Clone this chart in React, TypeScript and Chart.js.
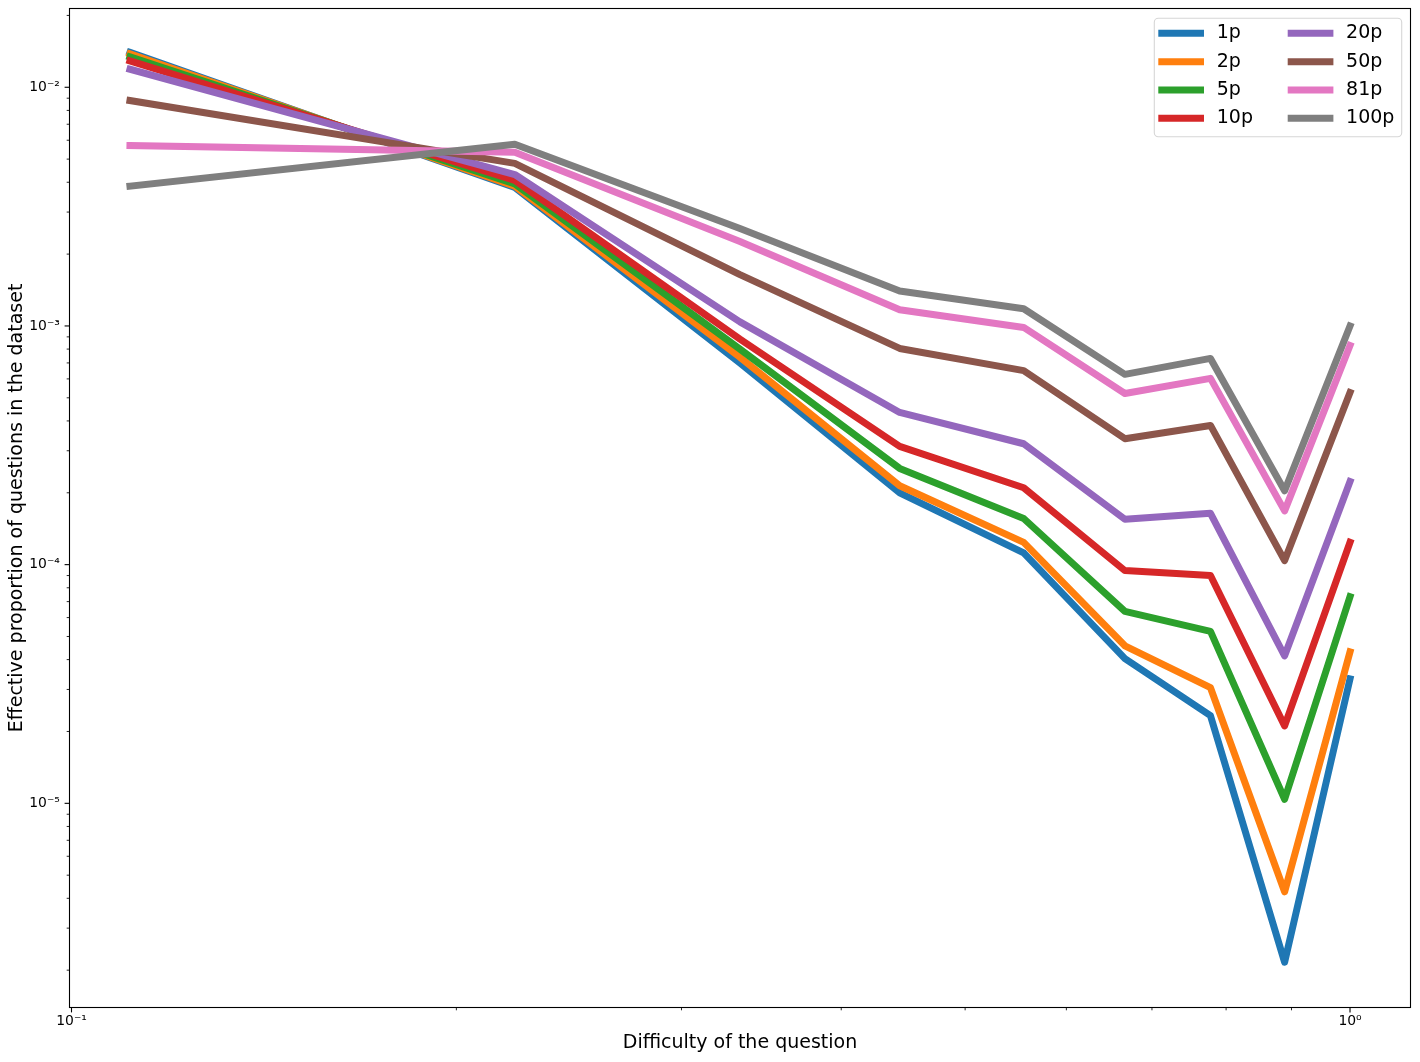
import React, { useEffect, useRef } from 'react';
import { Chart, registerables } from 'chart.js';

Chart.register(...registerables);

// ---------------- data ----------------
const DIFFICULTY = [0.1111, 0.2222, 0.3333, 0.4444, 0.5556, 0.6667, 0.7778, 0.8889, 1.0];

const SERIES_LABELS = ['1p', '2p', '5p', '10p', '20p', '50p', '81p', '100p'];
const SERIES_COLORS = ['#1f77b4', '#ff7f0e', '#2ca02c', '#d62728', '#9467bd', '#8c564b', '#e377c2', '#7f7f7f'];

const P1 = [0.0140, 0.00380, 0.000700, 0.000200, 0.000112, 0.0000404, 0.0000233, 0.00000216, 0.0000332];
const P2 = [0.0138, 0.00385, 0.000740, 0.000214, 0.000124, 0.0000457, 0.0000305, 0.00000426, 0.0000431];
const P5 = [0.0134, 0.00394, 0.000800, 0.000253, 0.000156, 0.0000637, 0.0000525, 0.0000104, 0.0000734];
const P10 = [0.0129, 0.00407, 0.000880, 0.000313, 0.000210, 0.0000944, 0.0000900, 0.0000211, 0.000124];
const P20 = [0.0119, 0.00431, 0.00104, 0.000434, 0.000321, 0.000155, 0.000164, 0.0000415, 0.000223];
const P50 = [0.0088, 0.00480, 0.00164, 0.000805, 0.000650, 0.000337, 0.000383, 0.000104, 0.000526];
const P81 = [0.0057, 0.00534, 0.00226, 0.00117, 0.000986, 0.000521, 0.000603, 0.000168, 0.000828];
const P100 = [0.00385, 0.00577, 0.00256, 0.00140, 0.00118, 0.000627, 0.000731, 0.000204, 0.00100];

const SERIES_VALUES = [P1, P2, P5, P10, P20, P50, P81, P100];

const X_TICK_VALUES = [0.1, 1];
const X_TICK_LABELS = ['10\u207B\u00B9', '10\u2070'];
const Y_TICK_VALUES = [1e-5, 1e-4, 1e-3, 1e-2];
const Y_TICK_LABELS = ['10\u207B\u2075', '10\u207B\u2074', '10\u207B\u00B3', '10\u207B\u00B2'];

const X_TITLE = 'Difficulty of the question';
const Y_TITLE = 'Effective proportion of questions in the dataset';

const X_MIN = 0.09964;
const X_MAX = 1.1151;
const Y_MIN = 1.395e-6;
const Y_MAX = 0.02138;

const FONT = 'DejaVu Sans';

// ---------------- helpers ----------------
function logTicks(min: number, max: number) {
  const out: { value: number; major: boolean }[] = [];
  const e0 = Math.floor(Math.log10(min));
  const e1 = Math.ceil(Math.log10(max));
  for (let e = e0; e <= e1; e++) {
    for (let m = 1; m <= 9; m++) {
      const v = m * Math.pow(10, e);
      if (v >= min && v <= max) out.push({ value: v, major: m === 1 });
    }
  }
  return out;
}

function labelFor(values: number[], labels: string[], v: number) {
  const i = values.findIndex((t) => Math.abs(Math.log10(t) - Math.log10(v)) < 1e-6);
  return i >= 0 ? labels[i] : '';
}

const framePlugin = {
  id: 'frameTicks',
  afterDraw(chart: any) {
    const { ctx, chartArea } = chart;
    const { left, right, top, bottom } = chartArea;
    ctx.save();
    ctx.strokeStyle = '#000';
    const xs = chart.scales.x;
    xs.ticks.forEach((t: any) => {
      const px = xs.getPixelForValue(t.value);
      ctx.lineWidth = t.major ? 1.1 : 0.85;
      const len = t.major ? 4.9 : 2.8;
      ctx.beginPath();
      ctx.moveTo(px, bottom);
      ctx.lineTo(px, bottom + len);
      ctx.stroke();
    });
    const ys = chart.scales.y;
    ys.ticks.forEach((t: any) => {
      const py = ys.getPixelForValue(t.value);
      ctx.lineWidth = t.major ? 1.1 : 0.85;
      const len = t.major ? 4.9 : 2.8;
      ctx.beginPath();
      ctx.moveTo(left - len, py);
      ctx.lineTo(left, py);
      ctx.stroke();
    });
    ctx.lineWidth = 1.1;
    ctx.strokeRect(left, top, right - left, bottom - top);
    ctx.restore();
  },
};

const legendPlugin = {
  id: 'mplLegend',
  afterDraw(chart: any) {
    const { ctx, chartArea } = chart;
    const boxRight = chartArea.right - 8.8;
    const boxTop = chartArea.top + 9.8;
    const boxW = 247.4;
    const boxH = 118.4;
    const boxLeft = boxRight - boxW;
    ctx.save();
    const r = 4;
    ctx.beginPath();
    ctx.moveTo(boxLeft + r, boxTop);
    ctx.lineTo(boxRight - r, boxTop);
    ctx.arcTo(boxRight, boxTop, boxRight, boxTop + r, r);
    ctx.lineTo(boxRight, boxTop + boxH - r);
    ctx.arcTo(boxRight, boxTop + boxH, boxRight - r, boxTop + boxH, r);
    ctx.lineTo(boxLeft + r, boxTop + boxH);
    ctx.arcTo(boxLeft, boxTop + boxH, boxLeft, boxTop + boxH - r, r);
    ctx.lineTo(boxLeft, boxTop + r);
    ctx.arcTo(boxLeft, boxTop, boxLeft + r, boxTop, r);
    ctx.closePath();
    ctx.fillStyle = 'rgba(255,255,255,0.8)';
    ctx.fill();
    ctx.lineWidth = 1.1;
    ctx.strokeStyle = '#d6d6d6';
    ctx.stroke();

    const rowY0 = boxTop + 15.0;
    const rowGap = 28.33;
    const colHandle = [boxLeft + 4.0, boxLeft + 133.4];
    const handleLen = 45.7;
    const textGap = 12.7;
    ctx.font = `19px "${FONT}"`;
    ctx.textBaseline = 'middle';
    ctx.textAlign = 'left';
    chart.data.datasets.forEach((ds: any, i: number) => {
      const col = Math.floor(i / 4);
      const row = i % 4;
      const y = rowY0 + row * rowGap;
      const x0 = colHandle[col];
      ctx.strokeStyle = ds.borderColor;
      ctx.lineWidth = 7;
      ctx.lineCap = 'butt';
      ctx.beginPath();
      ctx.moveTo(x0, y);
      ctx.lineTo(x0 + handleLen, y);
      ctx.stroke();
      ctx.fillStyle = '#000';
      ctx.fillText(ds.label, x0 + handleLen + textGap, y);
    });
    ctx.restore();
  },
};

export default function App() {
  const canvasRef = useRef<HTMLCanvasElement | null>(null);

  useEffect(() => {
    document.body.style.margin = '0';
    const canvas = canvasRef.current;
    if (!canvas) return;

    const datasets = SERIES_LABELS.map((label, i) => ({
      label,
      data: DIFFICULTY.map((x, j) => ({ x, y: SERIES_VALUES[i][j] })),
      borderColor: SERIES_COLORS[i],
      backgroundColor: SERIES_COLORS[i],
      borderWidth: 7,
      borderCapStyle: 'square' as const,
      borderJoinStyle: 'round' as const,
      pointRadius: 0,
      pointHoverRadius: 0,
      tension: 0,
      fill: false,
      order: SERIES_LABELS.length - i,
    }));

    const chart = new Chart(canvas, {
      type: 'line',
      data: { datasets },
      options: {
        animation: false,
        responsive: false,
        devicePixelRatio: 1,
        events: [],
        layout: { padding: { left: 0, top: 8.5, right: 9.5, bottom: 0 } },
        plugins: {
          legend: { display: false },
          tooltip: { enabled: false },
        },
        scales: {
          x: {
            type: 'logarithmic',
            min: X_MIN,
            max: X_MAX,
            grid: { display: false, drawOnChartArea: false, drawTicks: false },
            border: { display: false },
            afterBuildTicks: (s: any) => {
              s.ticks = logTicks(X_MIN, X_MAX);
            },
            afterFit: (s: any) => {
              s.height = 54.5;
              s.paddingLeft = 0;
              s.paddingRight = 0;
              s.paddingTop = 0;
              s.paddingBottom = 0;
            },
            ticks: {
              autoSkip: false,
              maxRotation: 0,
              minRotation: 0,
              padding: 5.2,
              color: '#000',
              font: { family: FONT, size: 13.9 },
              callback: (v: any) => labelFor(X_TICK_VALUES, X_TICK_LABELS, Number(v)),
            },
            title: {
              display: true,
              text: X_TITLE,
              color: '#000',
              font: { family: FONT, size: 19 },
              padding: { top: 0, bottom: 7.6 },
            },
          },
          y: {
            type: 'logarithmic',
            min: Y_MIN,
            max: Y_MAX,
            grid: { display: false, drawOnChartArea: false, drawTicks: false },
            border: { display: false },
            afterBuildTicks: (s: any) => {
              s.ticks = logTicks(Y_MIN, Y_MAX);
            },
            afterFit: (s: any) => {
              s.width = 69.5;
              s.paddingLeft = 0;
              s.paddingRight = 0;
              s.paddingTop = 0;
              s.paddingBottom = 0;
            },
            ticks: {
              autoSkip: false,
              padding: 9.7,
              color: '#000',
              font: { family: FONT, size: 13.9 },
              callback: (v: any) => labelFor(Y_TICK_VALUES, Y_TICK_LABELS, Number(v)),
            },
            title: {
              display: true,
              text: Y_TITLE,
              color: '#000',
              font: { family: FONT, size: 19 },
              padding: { top: 6, bottom: 0 },
            },
          },
        },
      } as any,
      plugins: [framePlugin, legendPlugin],
    });

    return () => {
      chart.destroy();
    };
  }, []);

  return (
    <div style={{ width: 1420, height: 1062, background: '#fff' }}>
      <canvas ref={canvasRef} width={1420} height={1062} style={{ width: 1420, height: 1062, display: 'block' }} />
    </div>
  );
}
